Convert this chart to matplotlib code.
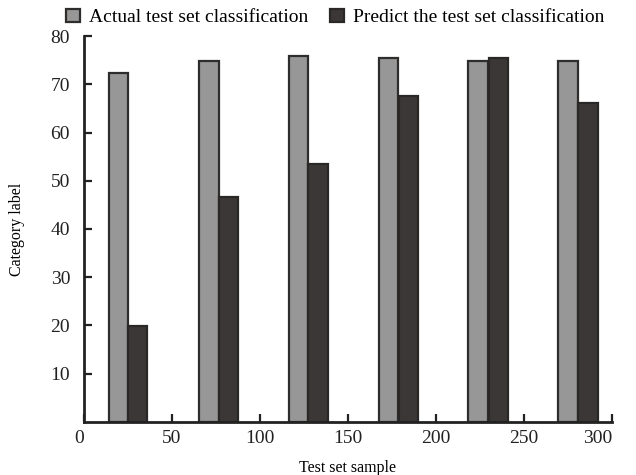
import numpy as np
import matplotlib.pyplot as plt

plt.rcParams['font.family'] = ['Liberation Serif', 'DejaVu Serif']

# data
actual_x = [19.5, 71, 122, 173, 224, 275]
predict_x = [30.5, 82, 133, 184.5, 235.5, 286.5]
actual_vals = [72.4, 74.8, 75.8, 75.5, 74.8, 74.8]
predict_vals = [19.8, 46.6, 53.5, 67.6, 75.4, 66.2]
x_ticks = [0, 50, 100, 150, 200, 250, 300]
y_ticks = [10, 20, 30, 40, 50, 60, 70, 80]

fig = plt.figure(figsize=(6.36, 4.75), dpi=100)
ax = fig.add_axes([0.132, 0.112, 0.830, 0.812])

bw = 11
ax.bar(actual_x, actual_vals, width=bw, color='#979797', edgecolor='#2f2c2c',
       linewidth=1.6, label='Actual test set classification', zorder=2)
ax.bar(predict_x, predict_vals, width=bw, color='#3b3737', edgecolor='#2a2727',
       linewidth=1.6, label='Predict the test set classification', zorder=2)

ax.set_xlim(0, 300)
ax.set_ylim(0, 80)
ax.set_xticks(x_ticks)
ax.set_yticks(y_ticks)
ax.tick_params(direction='in', length=6, width=1.6, labelsize=14, colors='#222222')
ax.tick_params(axis='x', pad=6)
ax.tick_params(axis='y', pad=10)
for lbl in ax.get_xticklabels():
    if lbl.get_text() in ('0', '300'):
        lbl.set_horizontalalignment('right')

ax.spines['top'].set_visible(False)
ax.spines['right'].set_visible(False)
for s in ['left', 'bottom']:
    ax.spines[s].set_linewidth(2)
    ax.spines[s].set_color('#222222')

ax.set_xlabel('Test set sample', fontsize=11.5, labelpad=9)
ax.set_ylabel('Category label', fontsize=11.5, labelpad=18)

ax.legend(loc='lower right', bbox_to_anchor=(1.005, 1.0), ncol=2, frameon=False,
          fontsize=14, handlelength=0.7, handleheight=0.7, handletextpad=0.5,
          columnspacing=1.1, borderaxespad=0.1)

plt.savefig('out.png', dpi=100)
